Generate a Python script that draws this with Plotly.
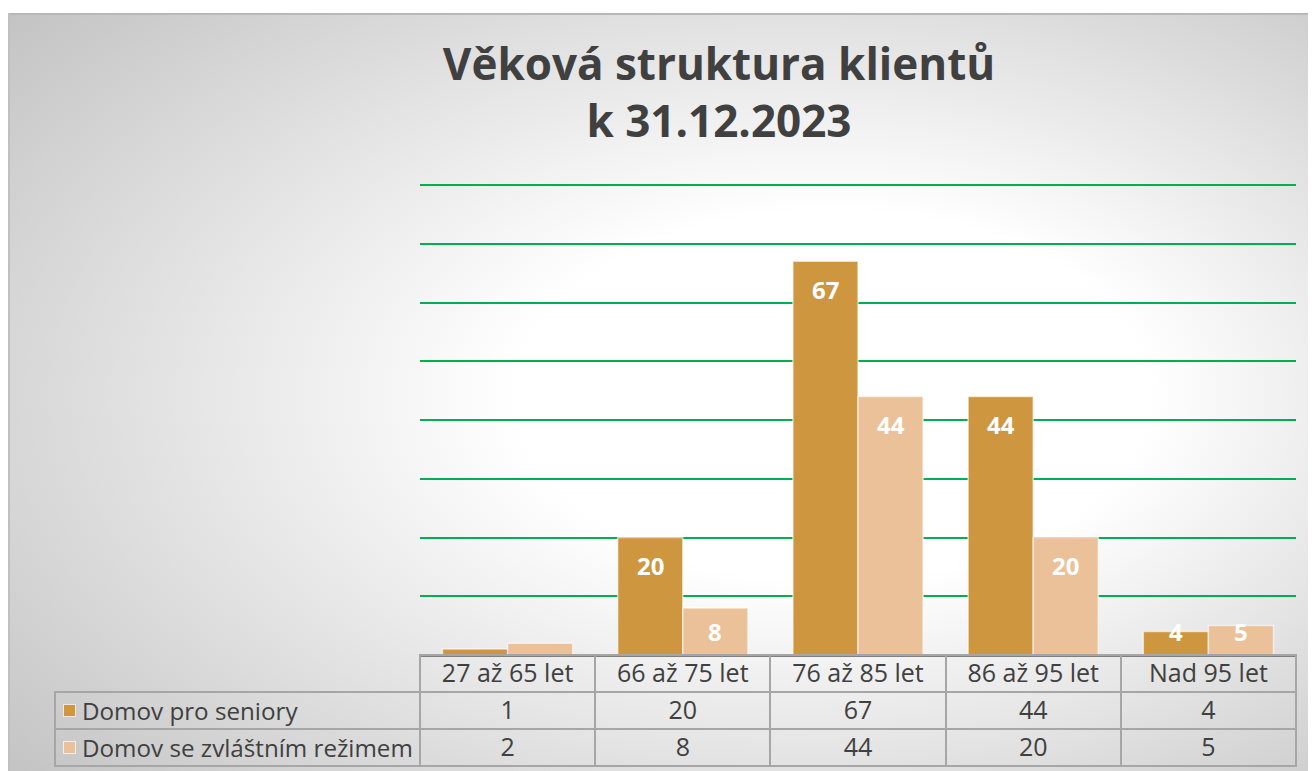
import base64
import plotly.graph_objects as go

categories = ["27 až 65 let", "66 až 75 let", "76 až 85 let", "86 až 95 let", "Nad 95 let"]
series_names = ["Domov pro seniory", "Domov se zvláštním režimem"]
seniory = [1, 20, 67, 44, 4]
zvlastni = [2, 8, 44, 20, 5]

W, H = 1316, 771
OFF = 8  # the page body puts the figure 8px in from the top-left corner
PLOT_L, PLOT_R, PLOT_T, PLOT_B = 420 - OFF, 1296 - OFF, 185 - OFF, 655 - OFF
TABLE_L, TABLE_B = 55 - OFF, 767 - OFF
ROW_H = 37
Y_TOP = 80
Y_MAX = 80.5
BAR_GAP = 0.257

DARK = "#CD963F"
LIGHT = "#EAC198"
TEXT = "#404040"
GREEN = "#00B050"
BORDER = "#A6A6A6"
FONT = "Open Sans, DejaVu Sans, sans-serif"

px_per_unit = (PLOT_B - PLOT_T) / Y_TOP
plot_top = PLOT_B - Y_MAX * px_per_unit

# gradient background of the chart area (white centre, grey edges)
bg_svg = """<svg xmlns='http://www.w3.org/2000/svg' width='1308' height='758' viewBox='0 0 1308 758'>
<defs><radialGradient id='g' cx='0.55' cy='0.5' r='0.8' fx='0.66' fy='0.5'>
<stop offset='0' stop-color='#ffffff'/><stop offset='0.3' stop-color='#ffffff'/>
<stop offset='1' stop-color='#bdbdbd'/></radialGradient></defs>
<rect width='1308' height='758' fill='url(#g)'/>
<line x1='0' y1='1' x2='1308' y2='1' stroke='#b8b8b8' stroke-width='2'/>
<line x1='1' y1='0' x2='1' y2='758' stroke='#c0c0c0' stroke-width='2'/>
</svg>"""
bg_uri = "data:image/svg+xml;base64," + base64.b64encode(bg_svg.encode()).decode()

fig = go.Figure()

for name, vals, col in zip(series_names, [seniory, zvlastni], [DARK, LIGHT]):
    fig.add_trace(go.Bar(
        x=categories, y=vals, name=name,
        marker=dict(color=col, line=dict(color="rgba(255,255,255,0.6)", width=1.5)),
        showlegend=False, hoverinfo="x+y+name",
    ))

# data labels, inside the top of each bar
cat_w = (PLOT_R - PLOT_L) / len(categories)
bar_w = cat_w * (1 - BAR_GAP) / 2
for k, vals in enumerate([seniory, zvlastni]):
    for c, v in zip(categories, vals):
        h = v * px_per_unit
        if h < 20:
            continue
        fig.add_annotation(
            x=c, y=v, xref="x", yref="y", text=f"<b>{v}</b>", showarrow=False,
            xshift=(k - 0.5) * bar_w, yshift=-max(0, min(28, h - 23.5)),
            yanchor="middle", font=dict(size=24, color="white", family=FONT),
        )

# data table under the chart
fig.add_trace(go.Table(
    domain=dict(x=[TABLE_L / W, PLOT_R / W], y=[1 - TABLE_B / H, 1 - PLOT_B / H]),
    columnwidth=[PLOT_L - TABLE_L] + [cat_w] * len(categories),
    header=dict(
        values=[""] + categories, height=ROW_H,
        fill_color="rgba(0,0,0,0)",
        line=dict(color=["rgba(0,0,0,0)"] + [BORDER] * len(categories), width=2),
        align="center", font=dict(size=25, color=TEXT, family=FONT),
    ),
    cells=dict(
        values=[["", ""]] + [[a, b] for a, b in zip(seniory, zvlastni)],
        height=ROW_H, fill_color="rgba(0,0,0,0)",
        line=dict(color=BORDER, width=2),
        align="center",
        font=dict(size=25, color=TEXT, family=FONT),
    ),
))

# legend keys in the first table column
for i, (name, col) in enumerate(zip(series_names, [DARK, LIGHT])):
    row_mid = 1 - (PLOT_B + ROW_H * (1.5 + i)) / H
    fig.add_annotation(
        x=(63 - OFF) / W, y=row_mid, xref="paper", yref="paper",
        xanchor="left", yanchor="middle", showarrow=False,
        text=" ", width=11, height=11, borderpad=0,
        bgcolor=col, bordercolor="rgba(255,255,255,0.7)", borderwidth=1,
        font=dict(size=4),
    )
    fig.add_annotation(
        x=(80 - OFF) / W, y=row_mid, xref="paper", yref="paper",
        xanchor="left", yanchor="middle", showarrow=False,
        text=name, font=dict(size=24.2, color=TEXT, family=FONT),
    )

fig.update_layout(
    width=W, height=H,
    margin=dict(l=0, r=0, t=0, b=0),
    paper_bgcolor="white", plot_bgcolor="rgba(0,0,0,0)",
    barmode="group", bargap=BAR_GAP, bargroupgap=0,
    title=dict(
        text="<b>Věková struktura klientů<br>k 31.12.2023</b>",
        x=711 / W, xanchor="center", y=1 - 72 / H, yanchor="top",
        font=dict(size=44, color=TEXT, family=FONT),
    ),
    xaxis=dict(
        domain=[PLOT_L / W, PLOT_R / W], showticklabels=False, ticks="",
        showline=True, linecolor="#7F7F7F", linewidth=2, showgrid=False,
    ),
    yaxis=dict(
        domain=[1 - PLOT_B / H, 1 - plot_top / H], range=[0, Y_MAX], dtick=10,
        showticklabels=False, showgrid=True, gridcolor=GREEN, gridwidth=2,
        zeroline=False,
    ),
    images=[dict(
        source=bg_uri, xref="paper", yref="paper",
        x=0, y=1 - (13 - OFF) / H, sizex=1, sizey=(H - 13 + OFF) / H,
        xanchor="left", yanchor="top", sizing="stretch", layer="below",
    )],
)

fig.write_html("out.html")
